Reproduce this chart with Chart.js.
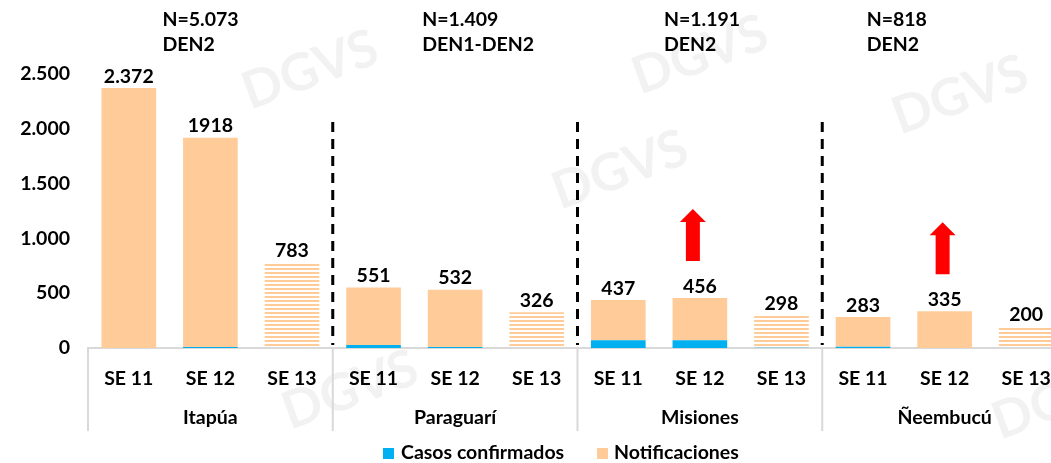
<!DOCTYPE html>
<html>
<head>
    <meta charset="utf-8">
    <title>Notificaciones por departamento</title>
    <script src="https://cdn.jsdelivr.net/npm/chart.js"></script>
    <style>
        body { margin: 0; overflow: hidden; background: #fff; }
        #wrap { width: 1070px; height: 463px; }
    </style>
</head>
<body>
    <div id="wrap"><canvas id="chart"></canvas></div>
    <script>
        const weeks = ['SE 11', 'SE 12', 'SE 13', 'SE 11', 'SE 12', 'SE 13', 'SE 11', 'SE 12', 'SE 13', 'SE 11', 'SE 12', 'SE 13'];
        const departments = ['Itapúa', 'Paraguarí', 'Misiones', 'Ñeembucú'];
        const confirmados = [0, 9, 0, 27, 9, 0, 70, 70, 3, 12, 0, 0];
        const notificaciones = [2372, 1909, 783, 524, 523, 326, 367, 386, 295, 271, 335, 200];
        const totalLabels = ['2.372', '1918', '783', '551', '532', '326', '437', '456', '298', '283', '335', '200'];
        const groupNotes = [['N=5.073', 'DEN2'], ['N=1.409', 'DEN1-DEN2'], ['N=1.191', 'DEN2'], ['N=818', 'DEN2']];
        const noteShift = [-48, -33, -36, -78]; // text start relative to middle bar of each group
        const arrowBars = [7, 10];
        const arrowShift = [-7, -2];
        const yTicks = [0, 500, 1000, 1500, 2000, 2500];

        const FONT = 'Lato, "DejaVu Sans", sans-serif';
        const FS = 19.5;
        const BLUE = '#00B0F0';
        const PEACH = '#FFCC99';

        // horizontal stripes for the current week (SE 13)
        const pc = document.createElement('canvas');
        pc.width = 4; pc.height = 4;
        const pctx = pc.getContext('2d');
        pctx.fillStyle = PEACH;
        pctx.fillRect(0, 0, 4, 2);
        const stripes = pctx.createPattern(pc, 'repeat');
        const notifFill = weeks.map(w => w === 'SE 13' ? stripes : PEACH);

        const extras = {
            id: 'extras',
            beforeDraw(chart) {
                const c = chart.ctx;
                c.save();
                c.fillStyle = 'rgba(0,0,0,0.05)';
                c.font = 'bold 52px ' + FONT;
                [[250, 110], [640, 95], [900, 135], [290, 430], [560, 210], [1000, 440]].forEach(p => {
                    c.save();
                    c.translate(p[0], p[1]);
                    c.rotate(-0.35);
                    c.fillText('DGVS', 0, 0);
                    c.restore();
                });
                c.restore();
            },
            afterDatasetsDraw(chart) {
                const c = chart.ctx;
                const x = chart.scales.x, y = chart.scales.y;
                const area = chart.chartArea;
                c.save();
                // totals above bars
                c.fillStyle = '#000';
                c.font = 'bold ' + FS + 'px ' + FONT;
                c.textAlign = 'center';
                c.textBaseline = 'bottom';
                weeks.forEach((w, i) => {
                    const total = confirmados[i] + notificaciones[i];
                    c.fillText(totalLabels[i], x.getPixelForValue(i), y.getPixelForValue(total) - 2);
                });
                // dashed separators between departments
                c.strokeStyle = '#000';
                c.lineWidth = 3;
                c.setLineDash([10, 7]);
                for (let g = 1; g < departments.length; g++) {
                    const sx = (x.getPixelForValue(g * 3 - 1) + x.getPixelForValue(g * 3)) / 2;
                    c.beginPath();
                    c.moveTo(sx, area.top + 48);
                    c.lineTo(sx, area.bottom - 3);
                    c.stroke();
                }
                c.setLineDash([]);
                // group notes
                c.textAlign = 'left';
                c.textBaseline = 'middle';
                groupNotes.forEach((n, g) => {
                    const tx = x.getPixelForValue(g * 3 + 1) + noteShift[g];
                    c.fillText(n[0], tx, 20);
                    c.fillText(n[1], tx, 45);
                });
                // red arrows above rising bars
                c.fillStyle = '#FF0000';
                arrowBars.forEach((i, k) => {
                    const ax = x.getPixelForValue(i) + arrowShift[k];
                    const base = y.getPixelForValue(confirmados[i] + notificaciones[i]) - 37;
                    c.beginPath();
                    c.moveTo(ax - 7, base);
                    c.lineTo(ax - 7, base - 39);
                    c.lineTo(ax - 13, base - 39);
                    c.lineTo(ax, base - 52);
                    c.lineTo(ax + 13, base - 39);
                    c.lineTo(ax + 7, base - 39);
                    c.lineTo(ax + 7, base);
                    c.closePath();
                    c.fill();
                });
                // group separators and department names under the axis
                c.strokeStyle = '#D9D9D9';
                c.lineWidth = 2;
                for (let g = 0; g <= departments.length; g++) {
                    const gx = g === 0 ? area.left : (x.getPixelForValue(g * 3 - 1) + x.getPixelForValue(g * 3)) / 2;
                    c.beginPath();
                    c.moveTo(gx, area.bottom);
                    c.lineTo(gx, area.bottom + 83);
                    c.stroke();
                }
                c.fillStyle = '#000';
                c.textAlign = 'center';
                departments.forEach((d, g) => {
                    c.fillText(d, x.getPixelForValue(g * 3 + 1), area.bottom + 70);
                });
                // legend
                c.textAlign = 'left';
                c.fillStyle = BLUE;
                c.fillRect(383, 448, 11, 11);
                c.fillStyle = '#000';
                c.fillText('Casos confirmados', 401, 453);
                c.fillStyle = PEACH;
                c.fillRect(597, 448, 11, 11);
                c.fillStyle = '#000';
                c.fillText('Notificaciones', 614, 453);
                c.restore();
            }
        };

        new Chart(document.getElementById('chart'), {
            type: 'bar',
            data: {
                labels: weeks,
                datasets: [
                    {
                        label: 'Casos confirmados',
                        data: confirmados,
                        backgroundColor: BLUE,
                        barPercentage: 0.67,
                        categoryPercentage: 1
                    },
                    {
                        label: 'Notificaciones',
                        data: notificaciones,
                        backgroundColor: notifFill,
                        barPercentage: 0.67,
                        categoryPercentage: 1
                    }
                ]
            },
            options: {
                responsive: true,
                maintainAspectRatio: false,
                animation: false,
                layout: { padding: { top: 74, right: 3, left: 0, bottom: 0 } },
                plugins: {
                    legend: { display: false },
                    tooltip: { enabled: false }
                },
                scales: {
                    x: {
                        stacked: true,
                        grid: { display: false, drawTicks: false },
                        border: { color: '#D9D9D9', width: 2 },
                        ticks: {
                            color: '#000',
                            padding: 19,
                            maxRotation: 0,
                            font: { family: FONT, size: FS, weight: 'bold' }
                        },
                        afterFit(s) { s.height = 115; }
                    },
                    y: {
                        stacked: true,
                        min: 0,
                        max: 2500,
                        afterBuildTicks(s) { s.ticks = yTicks.map(v => ({ value: v })); },
                        grid: { display: false, drawTicks: false },
                        border: { display: false },
                        ticks: {
                            color: '#000',
                            padding: 18,
                            font: { family: FONT, size: FS, weight: 'bold' },
                            callback: v => v.toLocaleString('de-DE')
                        },
                        afterFit(s) { s.width = 88; }
                    }
                }
            },
            plugins: [extras]
        });
    </script>
</body>
</html>
